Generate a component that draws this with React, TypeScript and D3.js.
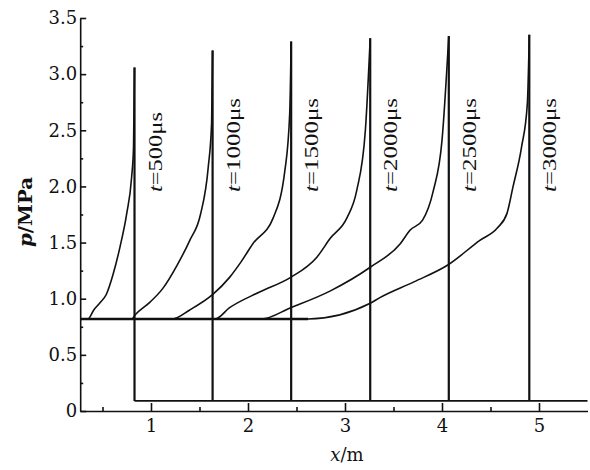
import React, { useEffect, useRef } from 'react';
import * as d3 from 'd3';

// wave times (μs), shock front positions (m) and peak pressures (MPa)
const times = [500, 1000, 1500, 2000, 2500, 3000];
const frontX = [0.83, 1.635, 2.445, 3.26, 4.07, 4.9];
const peakP = [3.06, 3.21, 3.29, 3.32, 3.34, 3.35];

// pressure profile behind each front: [x (m), p (MPa)]
const curve500 = [[0.35, 0.82], [0.41, 0.9], [0.47, 0.96], [0.54, 1.04], [0.61, 1.22], [0.68, 1.46], [0.75, 1.76], [0.8, 2.08], [0.82, 2.35]];
const curve1000 = [[0.8, 0.82], [0.84, 0.86], [0.99, 0.97], [1.12, 1.09], [1.27, 1.3], [1.4, 1.52], [1.51, 1.75], [1.59, 2.17], [1.625, 2.57]];
const curve1500 = [[1.22, 0.82], [1.4, 0.9], [1.64, 1.04], [1.81, 1.19], [1.93, 1.33], [2.05, 1.49], [2.26, 1.72], [2.38, 2.14], [2.43, 2.65]];
const curve2000 = [[1.66, 0.82], [1.81, 0.92], [2.12, 1.06], [2.44, 1.19], [2.71, 1.37], [2.85, 1.54], [3.02, 1.72], [3.12, 1.96], [3.21, 2.5]];
const curve2500 = [[2.14, 0.82], [2.44, 0.92], [2.85, 1.07], [3.26, 1.28], [3.57, 1.49], [3.67, 1.61], [3.8, 1.7], [3.91, 1.96], [4.0, 2.41]];
const curve3000 = [[2.62, 0.82], [3.26, 0.96], [3.36, 1.01], [3.71, 1.15], [4.06, 1.3], [4.39, 1.52], [4.57, 1.63], [4.67, 1.76], [4.73, 1.99], [4.82, 2.35], [4.88, 2.74]];
const curves = [curve500, curve1000, curve1500, curve2000, curve2500, curve3000];

const baseP = 0.82;   // initial pressure
const tailP = 0.09;   // pressure ahead of the front
const xStart = 0.27;
const xEnd = 5.5;

const xTicks = [1, 2, 3, 4, 5];
const xMinorTicks = [0.5, 1.5, 2.5, 3.5, 4.5];
const yTicks = [0, 0.5, 1, 1.5, 2, 2.5, 3, 3.5];
const yMinorTicks = [0.25, 0.75, 1.25, 1.75, 2.25, 2.75, 3.25];

export default function App() {
  const ref = useRef<SVGSVGElement>(null);

  useEffect(() => {
    const svg = d3.select(ref.current);
    svg.selectAll('*').remove();

    const x = d3.scaleLinear().domain([0, 5]).range([54, 539]);
    const y = d3.scaleLinear().domain([0, 3.5]).range([411, 18]);
    const xAxisScale = d3.scaleLinear().domain([xStart, xEnd]).range([x(xStart), x(xEnd)]);

    const serif = '"DejaVu Serif", serif';
    const ink = '#111';

    // x axis
    const gx = svg.append('g').attr('transform', `translate(0,${y(0)})`);
    gx.call(d3.axisBottom(xAxisScale).tickValues(xTicks).tickSizeInner(-8).tickSizeOuter(0).tickPadding(8).tickFormat(d3.format('d')));
    gx.append('g').call(d3.axisBottom(xAxisScale).tickValues(xMinorTicks).tickSizeInner(-4).tickSizeOuter(0).tickFormat(() => ''))
      .select('.domain').remove();
    gx.selectAll('path, line').attr('stroke', ink).attr('stroke-width', 1.6);
    gx.selectAll('text').attr('fill', ink).style('font-family', serif).style('font-size', '18px');

    // y axis
    const gy = svg.append('g').attr('transform', `translate(${x(xStart)},0)`);
    gy.call(d3.axisLeft(y).tickValues(yTicks).tickSizeInner(-6).tickSizeOuter(0).tickPadding(3)
      .tickFormat((d: any) => (d === 0 ? '0' : d3.format('.1f')(d))));
    gy.append('g').call(d3.axisLeft(y).tickValues(yMinorTicks).tickSizeInner(-3).tickSizeOuter(0).tickFormat(() => ''))
      .select('.domain').remove();
    gy.selectAll('path, line').attr('stroke', ink).attr('stroke-width', 1.6);
    gy.selectAll('text').attr('fill', ink).style('font-family', serif).style('font-size', '18px');

    const plot = svg.append('g');

    // undisturbed line ahead of the fronts
    plot.append('line')
      .attr('x1', x(frontX[0])).attr('x2', x(xEnd))
      .attr('y1', y(tailP)).attr('y2', y(tailP))
      .attr('stroke', ink).attr('stroke-width', 1.8);

    // initial pressure plateau
    plot.append('line')
      .attr('x1', x(xStart)).attr('x2', x(d3.max(curves, c => c[0][0]) as number))
      .attr('y1', y(baseP)).attr('y2', y(baseP))
      .attr('stroke', ink).attr('stroke-width', 2.6);

    const line = d3.line<number[]>()
      .x(d => x(d[0]))
      .y(d => y(d[1]))
      .curve(d3.curveMonotoneX);

    curves.forEach((c, i) => {
      const pts = [[xStart, baseP], ...c, [frontX[i], peakP[i]]];
      plot.append('path')
        .attr('d', line(pts))
        .attr('fill', 'none')
        .attr('stroke', ink)
        .attr('stroke-width', 1.6);

      plot.append('line')
        .attr('x1', x(frontX[i])).attr('x2', x(frontX[i]))
        .attr('y1', y(peakP[i])).attr('y2', y(tailP))
        .attr('stroke', ink).attr('stroke-width', 2.2);

      const label = plot.append('text')
        .attr('transform', `translate(${x(frontX[i]) + 20},192) rotate(-90)`)
        .attr('dominant-baseline', 'central')
        .attr('textLength', times[i] < 1000 ? 80 : 94)
        .attr('lengthAdjust', 'spacingAndGlyphs')
        .attr('fill', ink)
        .style('font-family', '"Liberation Serif", serif')
        .style('font-size', '19px');
      label.append('tspan').style('font-style', 'italic').text('t');
      label.append('tspan').text(`=${times[i]}μs`);
    });

    // axis titles
    const xt = svg.append('text')
      .attr('x', 347).attr('y', 461)
      .attr('text-anchor', 'middle')
      .attr('fill', ink)
      .style('font-family', serif)
      .style('font-size', '18px');
    xt.append('tspan').style('font-style', 'italic').text('x');
    xt.append('tspan').text('/m');

    const yt = svg.append('text')
      .attr('transform', 'translate(25,212) rotate(-90)')
      .attr('text-anchor', 'middle')
      .attr('dominant-baseline', 'central')
      .attr('textLength', 70)
      .attr('lengthAdjust', 'spacingAndGlyphs')
      .attr('fill', ink)
      .style('font-family', serif)
      .style('font-weight', 'bold')
      .style('font-size', '18px');
    yt.append('tspan').style('font-style', 'italic').text('p');
    yt.append('tspan').text('/MPa');
  }, []);

  return (
    <svg
      ref={ref}
      width={590}
      height={470}
      style={{ position: 'absolute', left: 0, top: 0, background: '#fff' }}
    />
  );
}
